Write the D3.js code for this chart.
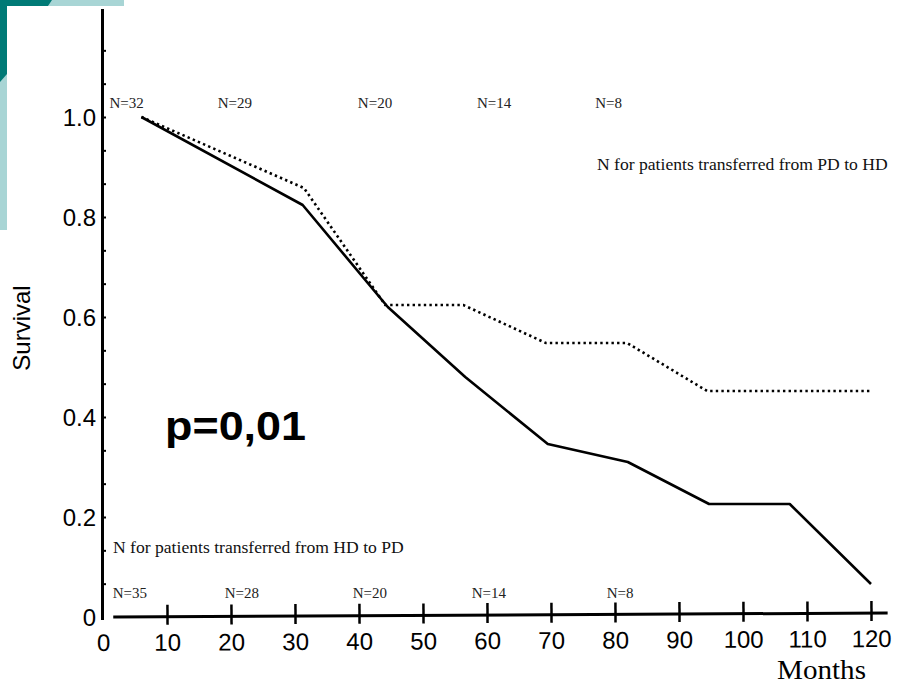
<!DOCTYPE html>
<html>
<head>
<meta charset="utf-8">
<script src="https://cdn.jsdelivr.net/npm/d3@7"></script>
<style>
  html, body { margin: 0; padding: 0; background: #fff; }
  svg { display: block; }
</style>
</head>
<body>
<script>
// ---- data ----
const solidMonths   = [6, 31.2, 44.5, 56.6, 69.5, 82.0, 94.7, 107.3, 120];
const solidSurvival = [1.0, 0.824, 0.62, 0.48, 0.346, 0.31, 0.226, 0.226, 0.066];
const dottedMonths   = [6, 31.4, 44.1, 56.3, 69.2, 81.9, 94.4, 119.8];
const dottedSurvival = [1.0, 0.858, 0.624, 0.624, 0.548, 0.548, 0.452, 0.452];
const xTickValues = [0, 10, 20, 30, 40, 50, 60, 70, 80, 90, 100, 110, 120];
const yTickValues = [0, 0.2, 0.4, 0.6, 0.8, 1.0];
const yTickLabels = ["0", "0.2", "0.4", "0.6", "0.8", "1.0"];
const topNMonths = [3.7, 20.6, 42.5, 61.1, 79.0];
const topNLabels = ["N=32", "N=29", "N=20", "N=14", "N=8"];
const bottomNMonths = [4.2, 21.7, 41.7, 60.3, 80.8];
const bottomNLabels = ["N=35", "N=28", "N=20", "N=14", "N=8"];

const W = 900, H = 685;
const svg = d3.select("body").append("svg").attr("width", W).attr("height", H);
svg.append("rect").attr("width", W).attr("height", H).attr("fill", "#fff");

// decorative teal corner
const dark = "#007a76", light = "#a8d5d5";
svg.append("polygon").attr("points", "50,0 124,0 124,6 48,6").attr("fill", light);
svg.append("polygon").attr("points", "0,74 7,72 7,230 0,230").attr("fill", light);
svg.append("polygon").attr("points", "0,0 52,0 48,6 7,6 7,74 0,82").attr("fill", dark);

const x = d3.scaleLinear().domain([0, 120]).range([103, 871]);
const y = d3.scaleLinear().domain([0, 1]).range([617, 117]);

const sans = "Liberation Sans, Arial, sans-serif";
const serif = "Liberation Serif, Times New Roman, serif";

// Y axis line
svg.append("line")
  .attr("x1", 102.5).attr("x2", 102.5)
  .attr("y1", y(1.216)).attr("y2", y(-0.006))
  .attr("stroke", "#000").attr("stroke-width", 3);

// y minor ticks (every 1/15)
const minor = d3.range(1, 18).map(k => k / 15);
const yMinor = svg.append("g").attr("transform", "translate(103,0)")
  .call(d3.axisRight(y).tickValues(minor).tickSize(3).tickFormat(""));
yMinor.select(".domain").remove();
yMinor.selectAll(".tick line").attr("stroke", "#000").attr("stroke-width", 2);

// y labels
const yAx = svg.append("g").attr("transform", "translate(96,0)")
  .call(d3.axisLeft(y).tickValues(yTickValues).tickSize(0).tickPadding(0)
        .tickFormat((d, i) => yTickLabels[i]));
yAx.select(".domain").remove();
yAx.selectAll(".tick line").remove();
yAx.selectAll("text").attr("font-family", sans).attr("font-size", 24)
  .attr("fill", "#000").attr("dy", "0.36em");

// X axis
const xg = svg.append("g").attr("transform", "rotate(-0.3, 500, 614) translate(0,614)");
const xAx = xg.call(d3.axisBottom(x).tickValues(xTickValues).tickSize(20).tickPadding(0));
xAx.select(".domain").remove();
xAx.selectAll(".tick line").attr("y1", -11).attr("y2", 9)
  .attr("stroke", "#000").attr("stroke-width", 2.5)
  .attr("display", d => d === 0 ? "none" : null);
xAx.selectAll(".tick text").attr("font-family", sans).attr("font-size", 24)
  .attr("fill", "#000").attr("y", 35).attr("dy", "0");
xg.append("line").attr("x1", x(1.6)).attr("x2", x(122.6)).attr("y1", 1).attr("y2", 1)
  .attr("stroke", "#000").attr("stroke-width", 3);

// curves
const line = d3.line().x(d => x(d[0])).y(d => y(d[1]));
svg.append("path")
  .datum(dottedMonths.map((m, i) => [m, dottedSurvival[i]]))
  .attr("d", line).attr("fill", "none").attr("stroke", "#000")
  .attr("stroke-width", 2.6).attr("stroke-dasharray", "2.4,3.2");
svg.append("path")
  .datum(solidMonths.map((m, i) => [m, solidSurvival[i]]))
  .attr("d", line).attr("fill", "none").attr("stroke", "#000")
  .attr("stroke-width", 2.6).attr("stroke-linejoin", "round");

// N labels
svg.append("g").selectAll("text").data(topNLabels).join("text")
  .attr("x", (d, i) => x(topNMonths[i])).attr("y", 108)
  .attr("text-anchor", "middle").attr("font-family", serif).attr("font-size", 15)
  .attr("fill", "#222").text(d => d);
svg.append("g").selectAll("text").data(bottomNLabels).join("text")
  .attr("x", (d, i) => x(bottomNMonths[i])).attr("y", 598)
  .attr("text-anchor", "middle").attr("font-family", serif).attr("font-size", 15)
  .attr("fill", "#222").text(d => d);

svg.append("text").attr("x", 597).attr("y", 170)
  .attr("font-family", serif).attr("font-size", 17.6).attr("fill", "#111")
  .text("N for patients transferred from PD to HD");
svg.append("text").attr("x", 113).attr("y", 553)
  .attr("font-family", serif).attr("font-size", 17.6).attr("fill", "#111")
  .text("N for patients transferred from HD to PD");

// p value
svg.append("text").attr("x", 165).attr("y", 440)
  .attr("font-family", sans).attr("font-weight", "bold").attr("font-size", 40)
  .attr("textLength", 141).attr("lengthAdjust", "spacingAndGlyphs")
  .attr("fill", "#000").text("p=0,01");

// axis titles
svg.append("text").attr("transform", "translate(30,328) rotate(-90)")
  .attr("text-anchor", "middle").attr("font-family", sans).attr("font-size", 24)
  .attr("fill", "#000").text("Survival");
svg.append("text").attr("x", 777).attr("y", 679)
  .attr("font-family", serif).attr("font-size", 27).attr("fill", "#000")
  .attr("textLength", 89).attr("lengthAdjust", "spacingAndGlyphs")
  .text("Months");
</script>
</body>
</html>
